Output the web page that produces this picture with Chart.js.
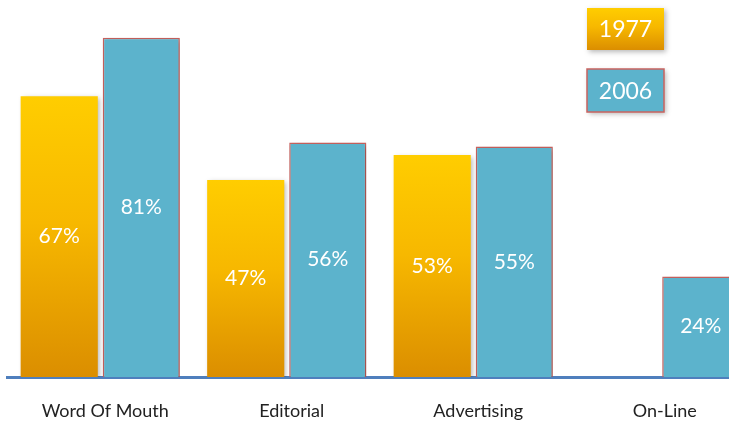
<!DOCTYPE html>
<html>
<head>
<meta charset="utf-8">
<script src="https://cdn.jsdelivr.net/npm/chart.js@4.4.1/dist/chart.umd.min.js"></script>
<style>
  html, body { margin: 0; padding: 0; background: #fff; overflow: hidden; }
  #wrap { width: 760px; height: 427px; }
</style>
</head>
<body>
<div id="wrap"><canvas id="chart"></canvas></div>
<script>
const categories = ['Word Of Mouth', 'Editorial', 'Advertising', 'On-Line'];
const seriesNames = ['1977', '2006'];
const values1977 = [67, 47, 53, null];
const values2006 = [81, 56, 55, 24];

const FONT = 'Lato, "Open Sans", sans-serif';

function goldGradient(ctx, top, bottom) {
  const g = ctx.createLinearGradient(0, top, 0, bottom);
  g.addColorStop(0, '#ffcd00');
  g.addColorStop(0.45, '#f7b800');
  g.addColorStop(1, '#db8e00');
  return g;
}

function barGold(context) {
  const chart = context.chart;
  const area = chart.chartArea;
  if (!area || context.raw == null) return '#f5b300';
  const top = chart.scales.y.getPixelForValue(context.raw);
  return goldGradient(chart.ctx, top, area.bottom);
}

// soft shadow under the bars
const shadowPlugin = {
  id: 'shadow',
  beforeDatasetsDraw(chart) {
    const ctx = chart.ctx;
    ctx.save();
    ctx.shadowColor = 'rgba(0,0,0,0.28)';
    ctx.shadowBlur = 5;
    ctx.shadowOffsetX = 2;
    ctx.shadowOffsetY = 2;
  },
  afterDatasetsDraw(chart) {
    chart.ctx.restore();
  }
};

// percent labels in the middle of each bar
const valueLabels = {
  id: 'valueLabels',
  afterDatasetsDraw(chart) {
    const ctx = chart.ctx;
    ctx.save();
    ctx.fillStyle = '#ffffff';
    ctx.font = '21px ' + FONT;
    ctx.textAlign = 'center';
    ctx.textBaseline = 'middle';
    chart.data.datasets.forEach((ds, i) => {
      chart.getDatasetMeta(i).data.forEach((bar, j) => {
        const v = ds.data[j];
        if (v == null) return;
        ctx.fillText(v + '%', bar.x, (bar.y + bar.base) / 2);
      });
    });
    ctx.restore();
  }
};

// boxed legend at the top right
const boxLegend = {
  id: 'boxLegend',
  afterDraw(chart) {
    const ctx = chart.ctx;
    const x = 587, w = 77;
    const boxes = [{ y: 8, h: 42 }, { y: 69, h: 43 }];
    chart.data.datasets.forEach((ds, i) => {
      const b = boxes[i];
      ctx.save();
      ctx.shadowColor = 'rgba(0,0,0,0.28)';
      ctx.shadowBlur = 5;
      ctx.shadowOffsetX = 2;
      ctx.shadowOffsetY = 2;
      ctx.fillStyle = i === 0 ? goldGradient(ctx, b.y, b.y + b.h) : '#5cb3cc';
      ctx.fillRect(x, b.y, w, b.h);
      ctx.restore();
      if (i === 1) {
        ctx.save();
        ctx.strokeStyle = '#c9635f';
        ctx.lineWidth = 1.5;
        ctx.strokeRect(x, b.y, w, b.h);
        ctx.restore();
      }
      ctx.save();
      ctx.fillStyle = '#ffffff';
      ctx.font = '23px ' + FONT;
      ctx.textAlign = 'center';
      ctx.textBaseline = 'middle';
      ctx.fillText(ds.label, x + w / 2, b.y + b.h / 2 + 1);
      ctx.restore();
    });
  }
};

new Chart(document.getElementById('chart'), {
  type: 'bar',
  data: {
    labels: categories,
    datasets: [{
      label: seriesNames[0],
      data: values1977,
      backgroundColor: barGold,
      borderWidth: 0
    }, {
      label: seriesNames[1],
      data: values2006,
      backgroundColor: '#5cb3cc',
      borderColor: '#c9635f',
      borderWidth: 1.5
    }]
  },
  options: {
    responsive: true,
    maintainAspectRatio: false,
    animation: false,
    layout: { padding: { left: 7, right: 7, top: 0, bottom: 0 } },
    datasets: { bar: { categoryPercentage: 0.88, barPercentage: 0.94 } },
    plugins: {
      legend: { display: false },
      tooltip: { enabled: false }
    },
    scales: {
      x: {
        z: 1,
        grid: { display: false, drawTicks: false },
        border: { display: true, color: '#4f7fbd', width: 3 },
        ticks: { color: '#222222', font: { family: FONT, size: 18 }, padding: 23, labelOffset: 5 },
        afterFit(scale) { scale.height = 50; }
      },
      y: {
        display: false,
        min: 0,
        max: 90
      }
    }
  },
  plugins: [shadowPlugin, valueLabels, boxLegend]
});
</script>
</body>
</html>
